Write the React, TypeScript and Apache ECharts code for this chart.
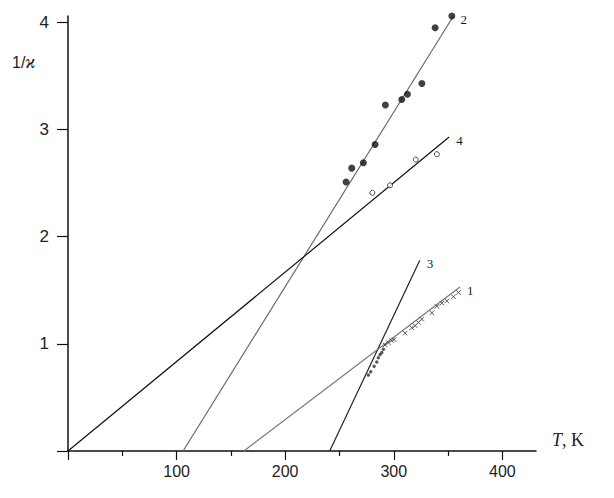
import React, { useEffect, useRef } from "react";
import * as echarts from "echarts";

// Fitted straight lines: [T, 1/ϰ] end points
const line1 = [[162, 0], [361, 1.53]];
const line2 = [[106, 0], [355, 4.06]];
const line3 = [[241, 0], [324, 1.78]];
const line4 = [[0, 0], [351, 2.93]];

// Measured points
const points2 = [
  [256.1, 2.51], [261.3, 2.64], [272.0, 2.69], [282.8, 2.86], [292.3, 3.23],
  [307.4, 3.28], [312.6, 3.33], [325.9, 3.43], [338.1, 3.95], [353.5, 4.06],
];
const points4 = [
  [280.3, 2.41], [296.6, 2.48], [320.3, 2.72], [339.7, 2.77],
];
const points3 = [
  [276.6, 0.71], [278.8, 0.74], [281.9, 0.79], [284.4, 0.83], [285.8, 0.87],
  [287.4, 0.9], [289.0, 0.92], [290.5, 0.95],
];
const points1 = [
  [292.0, 0.99], [295.1, 1.01], [298.2, 1.03], [300.3, 1.04], [310.5, 1.1],
  [316.6, 1.15], [319.7, 1.17], [322.7, 1.2], [325.9, 1.23], [335.1, 1.29],
  [339.7, 1.35], [344.3, 1.38], [348.9, 1.4], [355.0, 1.44], [359.6, 1.48],
];

const xMajorTicks = [0, 100, 200, 300, 400];
const xMinorTicks = [50, 150, 250, 350];
const xLabels = [100, 200, 300, 400];
const yTicks = [0, 1, 2, 3, 4];
const yLabels = [1, 2, 3, 4];

function lineSeries(name: string, data: number[][], color: string) {
  return {
    type: "line",
    name,
    data: data.map((p, i) =>
      i === data.length - 1
        ? {
            value: p,
            label: {
              show: true,
              formatter: name,
              position: "right",
              distance: 7,
              offset: [0, 3],
              fontFamily: "Liberation Serif",
              fontSize: 13,
              color: "#1a1a1a",
            },
          }
        : { value: p }
    ),
    symbol: "circle",
    symbolSize: 0,
    showSymbol: true,
    showAllSymbol: true,
    itemStyle: { color: "#1a1a1a" },
    lineStyle: { color, width: 1.2 },
    label: { show: false },
    z: 2,
  };
}

export default function App() {
  const ref = useRef<HTMLDivElement>(null);
  useEffect(() => {
    const chart = echarts.init(ref.current!, null, { renderer: "svg" });
    chart.setOption({
      animation: false,
      backgroundColor: "#fff",
      grid: { left: 68, top: 16, width: 468, height: 435, containLabel: false },
      xAxis: [
        {
          type: "value",
          min: 0,
          max: 431,
          splitLine: { show: false },
          axisLine: { show: true, onZero: false, lineStyle: { color: "#111", width: 1.5 } },
          axisTick: { show: true, customValues: xMajorTicks, length: 9, lineStyle: { color: "#111", width: 1.2 } },
          axisLabel: {
            show: true,
            customValues: xLabels,
            margin: 12,
            fontFamily: "Liberation Sans",
            fontSize: 16,
            color: "#222",
          },
          name: "{i|T}{n|, K}",
          nameLocation: "end",
          nameGap: 16,
          nameTextStyle: {
            verticalAlign: "bottom",
            padding: [0, 0, 2, 0],
            rich: {
              i: { fontFamily: "Liberation Serif", fontStyle: "italic", fontSize: 18, color: "#222" },
              n: { fontFamily: "Liberation Serif", fontSize: 18, color: "#222" },
            },
          },
        },
        {
          type: "value",
          min: 0,
          max: 431,
          position: "bottom",
          offset: 0,
          splitLine: { show: false },
          axisLine: { show: false },
          axisTick: { show: true, customValues: xMinorTicks, length: 5, lineStyle: { color: "#111", width: 1.2 } },
          axisLabel: { show: false },
        },
      ],
      yAxis: {
        type: "value",
        min: 0,
        max: 4.06,
        splitLine: { show: false },
        axisLine: { show: true, onZero: false, lineStyle: { color: "#111", width: 1.5 } },
        axisTick: { show: true, customValues: yTicks, length: 11, lineStyle: { color: "#111", width: 1.2 } },
        axisLabel: {
          show: true,
          customValues: yLabels,
          margin: 19,
          fontFamily: "Liberation Sans",
          fontSize: 17,
          color: "#222",
        },
      },
      graphic: [
        {
          type: "text",
          left: 12,
          top: 53,
          style: {
            text: "{a|1/}{b|ϰ}",
            rich: {
              a: { fontFamily: "Liberation Sans", fontSize: 16, fill: "#222" },
              b: { fontFamily: "Liberation Serif", fontStyle: "italic", fontSize: 18, fill: "#222" },
            },
          },
        },
      ],
      series: [
        lineSeries("2", line2, "#6a6a6a"),
        lineSeries("4", line4, "#111"),
        lineSeries("3", line3, "#222"),
        lineSeries("1", line1, "#777"),
        {
          type: "scatter",
          data: points2,
          symbol: "circle",
          symbolSize: 7,
          itemStyle: { color: "#111" },
          z: 3,
        },
        {
          type: "scatter",
          data: points4,
          symbol: "circle",
          symbolSize: 5,
          itemStyle: { color: "#fff", borderColor: "#222", borderWidth: 1 },
          z: 3,
        },
        {
          type: "scatter",
          data: points3,
          symbol: "circle",
          symbolSize: 3.5,
          itemStyle: { color: "#333" },
          z: 3,
        },
        {
          type: "scatter",
          data: points1,
          symbol: "path://M0,0L10,10M10,0L0,10",
          symbolSize: 4.5,
          itemStyle: { color: "none", borderColor: "#333", borderWidth: 1 },
          z: 3,
        },
      ],
    });
    return () => chart.dispose();
  }, []);
  return (
    <div
      ref={ref}
      style={{ position: "fixed", left: 0, top: 0, width: 614, height: 498, background: "#fff" }}
    />
  );
}
